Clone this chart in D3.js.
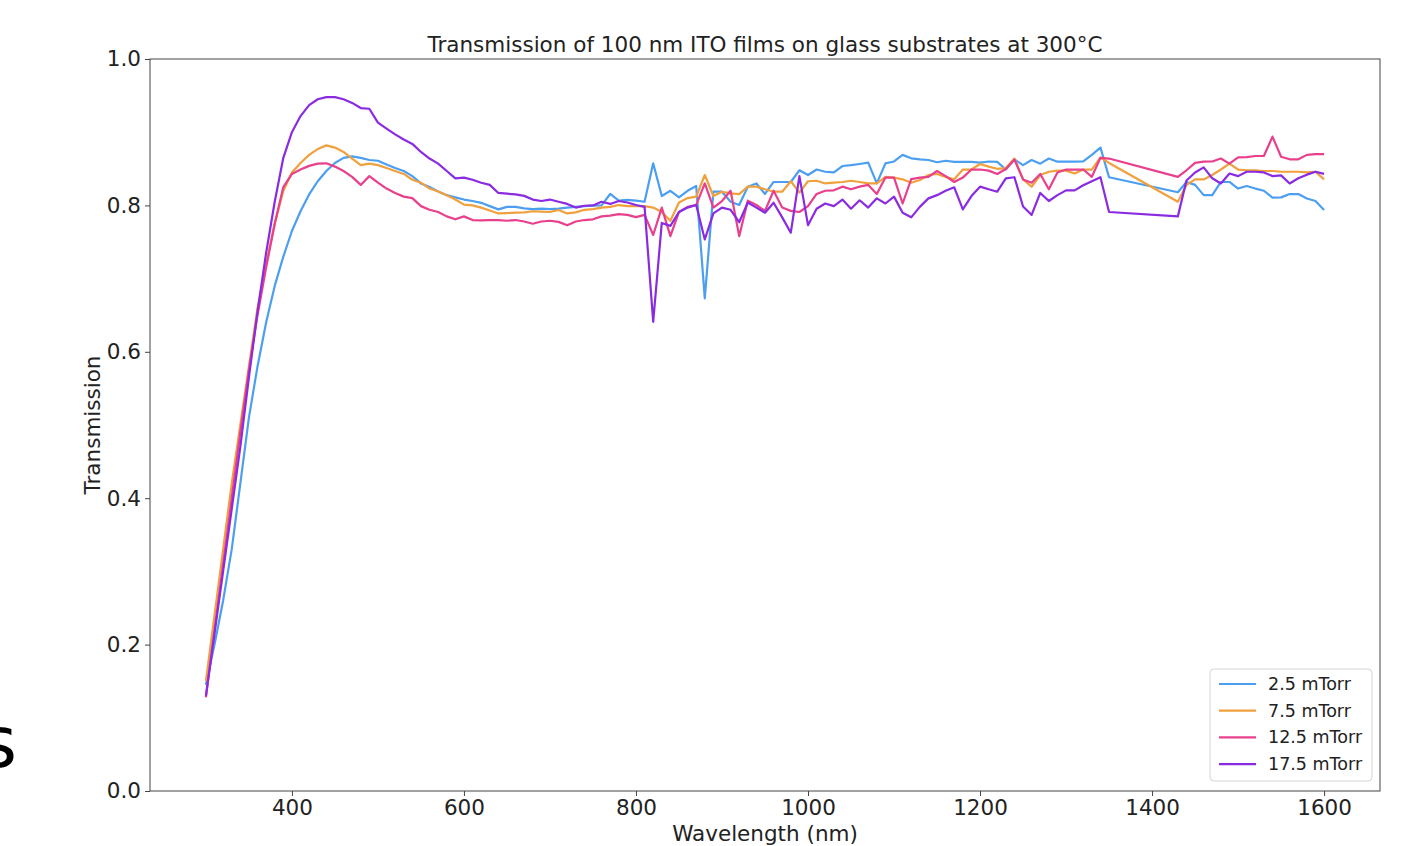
<!DOCTYPE html>
<html><head><meta charset="utf-8">
<script src="https://cdn.jsdelivr.net/npm/d3@7"></script>
<style>body{margin:0;background:#fff;overflow:hidden}</style>
</head><body>
<svg id="c" width="1421" height="846"></svg>
<script>
const wavelengths = [];
for (let w = 300; w <= 1350; w += 10) wavelengths.push(w);
for (let w = 1430; w <= 1600; w += 10) wavelengths.push(w);

const seriesNames = ["2.5 mTorr", "7.5 mTorr", "12.5 mTorr", "17.5 mTorr"];
const seriesColors = ["#4c9ff0", "#f0a03c", "#e8408c", "#8a2be2"];

const t25 = [0.145,0.20,0.26,0.33,0.42,0.51,0.58,0.64,0.69,0.73,0.765,0.792,0.815,0.833,0.847,0.858,0.865,0.867,0.865,0.862,
0.861,0.856,0.851,0.847,0.840,0.830,0.825,0.819,0.814,0.811,0.808,0.806,0.8035,0.799,0.7946,0.798,0.798,0.796,0.795,0.7955,
0.795,0.7955,0.797,0.798,0.799,0.7995,0.800,0.8156,0.8065,0.8075,0.8065,0.805,0.8575,0.8128,0.820,0.811,0.820,0.8265,0.673,0.8187,
0.8187,0.805,0.8005,0.8256,0.830,0.8156,0.832,0.832,0.832,0.848,0.8415,0.849,0.846,0.845,0.8538,0.855,0.8566,0.8584,0.830,0.8575,
0.860,0.869,0.8643,0.863,0.862,0.859,0.861,0.8595,0.8595,0.8595,0.8585,0.860,0.8595,0.849,0.8627,0.855,0.862,0.857,0.864,0.8597,
0.8597,0.8597,0.860,0.869,0.879,0.8385,
0.818,0.832,0.828,0.814,0.814,0.832,0.832,0.823,0.8265,0.823,0.820,0.8106,0.811,0.8155,0.8155,0.8094,0.806,0.7937];

const t75 = [0.15,0.24,0.33,0.42,0.50,0.58,0.66,0.72,0.775,0.82,0.845,0.858,0.869,0.877,0.882,0.879,0.873,0.864,0.855,0.857,
0.855,0.851,0.847,0.843,0.835,0.831,0.823,0.819,0.814,0.808,0.801,0.800,0.797,0.793,0.789,0.7895,0.790,0.7905,0.792,0.7915,
0.791,0.7937,0.789,0.7905,0.794,0.795,0.797,0.798,0.8005,0.799,0.799,0.799,0.797,0.791,0.779,0.804,0.810,0.812,0.8415,0.8128,
0.8187,0.8165,0.8155,0.8256,0.8256,0.822,0.8187,0.8187,0.833,0.8175,0.833,0.8337,0.830,0.831,0.832,0.8337,0.832,0.830,0.830,0.839,
0.838,0.8356,0.831,0.8347,0.8415,0.843,0.839,0.8356,0.849,0.849,0.8566,0.853,0.850,0.851,0.864,0.8355,0.8255,0.8415,0.846,0.8475,
0.8475,0.8435,0.849,0.849,0.8655,0.858,
0.805,0.828,0.8355,0.8355,0.8415,0.849,0.857,0.849,0.848,0.848,0.847,0.847,0.846,0.846,0.846,0.845,0.846,0.8355];

const t125 = [0.128,0.22,0.31,0.40,0.49,0.575,0.65,0.715,0.775,0.825,0.843,0.849,0.854,0.857,0.8575,0.853,0.847,0.839,0.828,0.840,
0.831,0.823,0.817,0.812,0.810,0.799,0.794,0.791,0.785,0.781,0.785,0.780,0.7795,0.780,0.780,0.779,0.780,0.778,0.775,0.778,
0.779,0.7775,0.773,0.778,0.780,0.781,0.785,0.786,0.788,0.787,0.784,0.787,0.7596,0.797,0.758,0.791,0.798,0.8005,0.830,0.797,
0.806,0.820,0.758,0.8065,0.8005,0.7925,0.820,0.797,0.7925,0.791,0.799,0.8156,0.820,0.8206,0.8256,0.822,0.8256,0.828,0.8156,0.838,
0.838,0.8026,0.836,0.838,0.839,0.847,0.840,0.832,0.838,0.849,0.849,0.8475,0.843,0.8497,0.8627,0.8355,0.831,0.843,0.822,0.845,
0.849,0.849,0.849,0.839,0.865,0.864,
0.839,0.848,0.858,0.8597,0.860,0.864,0.857,0.8655,0.866,0.8675,0.8675,0.894,0.8665,0.863,0.863,0.869,0.870,0.870];

const t175 = [0.13,0.215,0.30,0.385,0.47,0.565,0.655,0.735,0.805,0.865,0.90,0.922,0.937,0.945,0.948,0.948,0.945,0.940,0.933,0.932,
0.913,0.905,0.897,0.890,0.884,0.873,0.864,0.857,0.847,0.837,0.838,0.835,0.831,0.828,0.817,0.816,0.815,0.813,0.808,0.806,
0.808,0.805,0.802,0.797,0.7995,0.800,0.805,0.802,0.806,0.804,0.8005,0.798,0.641,0.776,0.772,0.791,0.797,0.8005,0.7535,0.789,
0.797,0.794,0.777,0.804,0.797,0.790,0.8037,0.7837,0.7627,0.840,0.773,0.7955,0.8026,0.799,0.808,0.7955,0.807,0.797,0.8096,0.8026,
0.812,0.790,0.7837,0.798,0.8096,0.814,0.820,0.8247,0.7946,0.8128,0.8256,0.822,0.8187,0.837,0.8385,0.7985,0.787,0.817,0.806,0.814,
0.8205,0.8205,0.8275,0.833,0.8385,0.791,
0.785,0.834,0.845,0.852,0.837,0.830,0.8435,0.840,0.846,0.846,0.845,0.840,0.841,0.830,0.837,0.842,0.846,0.843];

const seriesValues = [t25, t75, t125, t175];
const xTicks = [400, 600, 800, 1000, 1200, 1400, 1600];
const yTicks = [0.0, 0.2, 0.4, 0.6, 0.8, 1.0];

const svg = d3.select("#c");
const L = 150, R = 1380, T = 59, B = 791;
const x = d3.scaleLinear().domain([235, 1665]).range([L, R]);
const y = d3.scaleLinear().domain([0, 1]).range([B, T]);
const font = "DejaVu Sans, sans-serif";
const fs = 21.5;

// stray letter at left edge
svg.append("text").attr("x", 17).attr("y", 767).attr("text-anchor", "end")
  .attr("font-family", font).attr("font-size", 72).attr("fill", "#000").text("s");

const line = d3.line().x((d, i) => x(wavelengths[i])).y(d => y(d));
seriesValues.forEach((vals, k) => {
  svg.append("path").datum(vals).attr("d", line).attr("fill", "none")
    .attr("stroke", seriesColors[k]).attr("stroke-width", 2.2).attr("stroke-linejoin", "round");
});

const xa = svg.append("g").attr("transform", `translate(0,${B})`)
  .call(d3.axisBottom(x).tickValues(xTicks).tickSize(5).tickPadding(4).tickFormat(d3.format("d")));
const ya = svg.append("g").attr("transform", `translate(${L},0)`)
  .call(d3.axisLeft(y).tickValues(yTicks).tickSize(5).tickPadding(4).tickFormat(d3.format(".1f")));
[xa, ya].forEach(a => {
  a.selectAll("text").attr("font-family", font).attr("font-size", fs).attr("fill", "#222");
  a.selectAll("line").attr("stroke", "#444");
  a.select(".domain").remove();
});

svg.append("rect").attr("x", L).attr("y", T).attr("width", R - L).attr("height", B - T)
  .attr("fill", "none").attr("stroke", "#444").attr("stroke-width", 1);

svg.append("text").attr("x", (L + R) / 2).attr("y", 52).attr("text-anchor", "middle")
  .attr("font-family", font).attr("font-size", fs).attr("fill", "#222")
  .text("Transmission of 100 nm ITO films on glass substrates at 300°C");
svg.append("text").attr("x", (L + R) / 2).attr("y", 841).attr("text-anchor", "middle")
  .attr("font-family", font).attr("font-size", fs).attr("fill", "#222").text("Wavelength (nm)");
svg.append("text").attr("transform", `translate(100,${(T + B) / 2}) rotate(-90)`).attr("text-anchor", "middle")
  .attr("font-family", font).attr("font-size", fs).attr("fill", "#222").text("Transmission");

// legend
const lg = svg.append("g");
lg.append("rect").attr("x", 1210).attr("y", 669).attr("width", 162).attr("height", 112).attr("rx", 4)
  .attr("fill", "#fff").attr("fill-opacity", 0.8).attr("stroke", "#d5d5d5");
seriesNames.forEach((n, k) => {
  const yy = 684 + k * 26.7;
  lg.append("line").attr("x1", 1219).attr("x2", 1256).attr("y1", yy).attr("y2", yy)
    .attr("stroke", seriesColors[k]).attr("stroke-width", 2.2);
  lg.append("text").attr("x", 1268).attr("y", yy + 6).attr("font-family", font).attr("font-size", 17.5)
    .attr("fill", "#222").text(n);
});
</script>
</body></html>
